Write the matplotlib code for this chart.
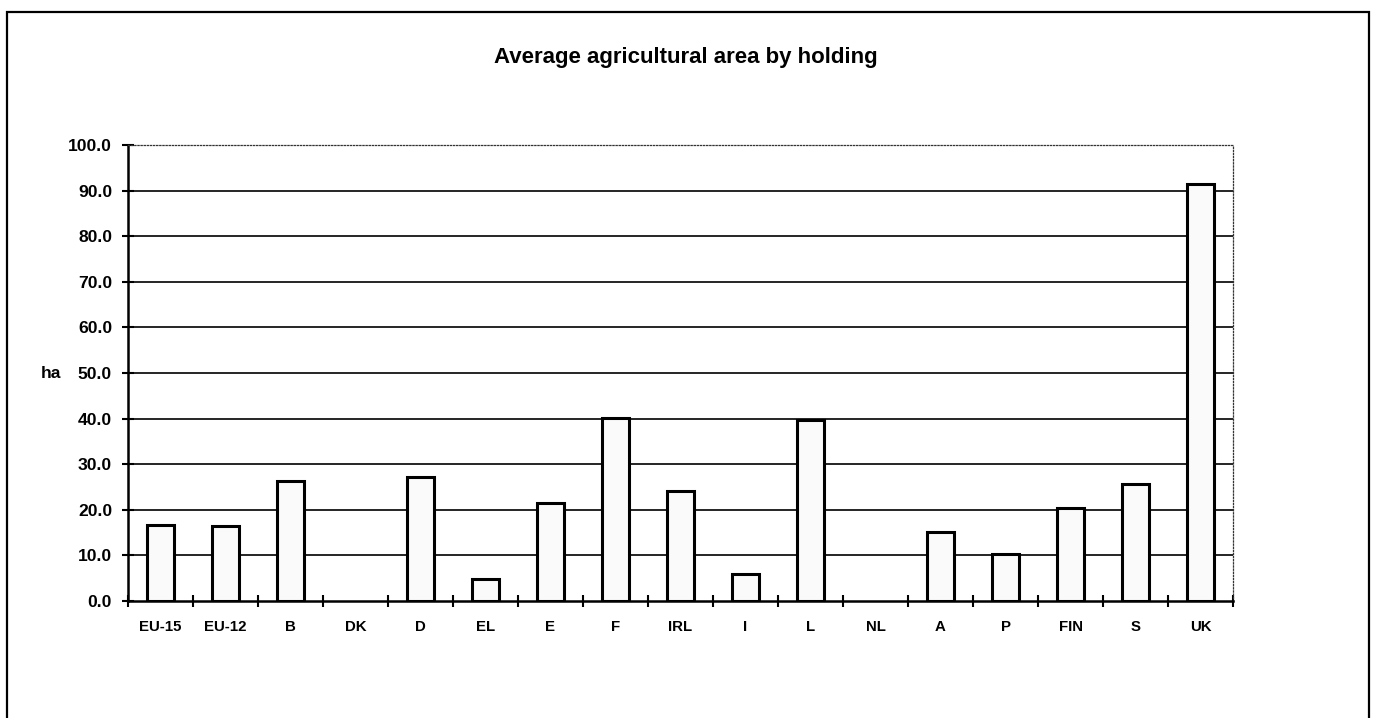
import numpy as np
import matplotlib
matplotlib.use("Agg")
import matplotlib.pyplot as plt
from matplotlib.patches import Rectangle
from matplotlib.ticker import FixedLocator, FormatStrFormatter

plt.rcParams['font.family'] = ['Liberation Sans', 'DejaVu Sans']

# Average utilised agricultural area per holding (ha); DK and NL not available
countries = ["EU-15", "EU-12", "B", "DK", "D", "EL", "E", "F", "IRL", "I",
             "L", "NL", "A", "P", "FIN", "S", "UK"]
area_ha = [16.6, 16.5, 26.3, np.nan, 27.1, 4.9, 21.6, 40.2, 24.2, 5.9,
           39.6, np.nan, 15.1, 10.3, 20.3, 25.6, 91.4]
y_ticks = [0, 10, 20, 30, 40, 50, 60, 70, 80, 90, 100]

W, H, DPI = 1373, 718, 100
fig = plt.figure(figsize=(W / DPI, H / DPI), dpi=DPI)
fig.patch.set_facecolor("white")

# outer chart frame (bottom edge runs off the page)
fig.patches.append(Rectangle((7 / W, -0.05), (1369 - 7) / W, 1.05 - 12 / H,
                             transform=fig.transFigure, fill=False,
                             edgecolor="black", linewidth=1.6))

ax = fig.add_axes([128 / W, 1 - 601 / H, (1233 - 128) / W, (601 - 145) / H])

x = np.arange(len(countries))
ax.bar(x, area_ha, width=0.42, color="#fafafa", edgecolor="black",
       linewidth=2.2, zorder=3)

ax.set_xlim(-0.5, len(countries) - 0.5)
ax.set_ylim(0, 100)

# horizontal gridlines
for v in y_ticks[1:-1]:
    ax.axhline(v, color="black", linewidth=1.2, zorder=1)

for side in ("top", "right"):
    ax.spines[side].set_linestyle((0, (1, 1.5)))
    ax.spines[side].set_color("#333333")
    ax.spines[side].set_linewidth(0.9)
ax.spines["left"].set_linewidth(1.8)
ax.spines["bottom"].set_linewidth(1.8)

ax.yaxis.set_major_locator(FixedLocator(y_ticks))
ax.yaxis.set_major_formatter(FormatStrFormatter("%.1f"))
ax.tick_params(axis="y", direction="inout", length=9, width=1.5,
               labelsize=12.6, pad=7)
for lab in ax.get_yticklabels():
    lab.set_fontweight("bold")

# category boundary ticks with centred labels
ax.set_xticks(np.arange(len(countries) + 1) - 0.5)
ax.set_xticklabels([])
ax.tick_params(axis="x", which="major", direction="inout", length=9, width=1.5)
ax.set_xticks(x, minor=True)
ax.set_xticklabels(countries, minor=True, fontsize=10.8, fontweight="bold")
ax.tick_params(axis="x", which="minor", length=0, pad=14)

fig.text(51 / W, 1 - 373 / H, "ha", ha="center", va="center",
         fontsize=12.6, fontweight="bold")
fig.text(686 / W, 1 - 57 / H, "Average agricultural area by holding",
         ha="center", va="center", fontsize=16, fontweight="bold")

fig.savefig("out.png", dpi=DPI, facecolor="white")
